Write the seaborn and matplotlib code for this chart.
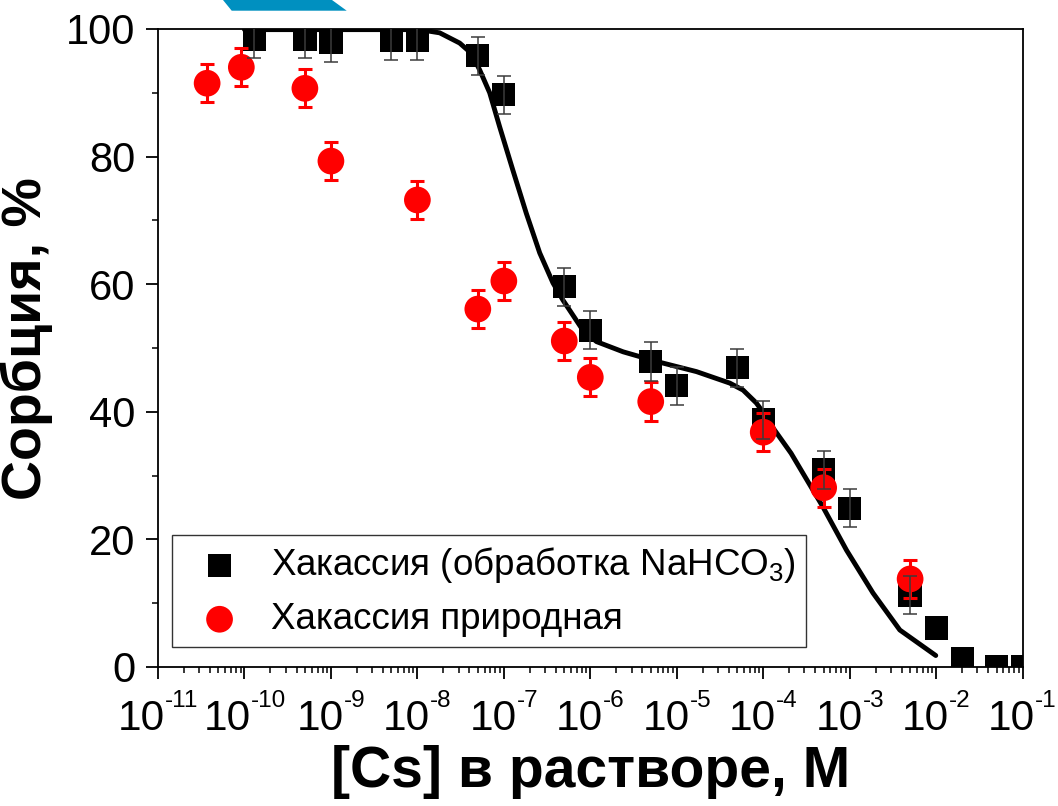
import numpy as np
import pandas as pd
import matplotlib
matplotlib.use("Agg")
import matplotlib.pyplot as plt
import seaborn as sns
from matplotlib.patches import Polygon
from matplotlib.ticker import LogLocator, MultipleLocator, NullFormatter

# ---- data ----
treated_x = [1.3e-10, 5e-10, 1e-9, 5e-9, 1e-8, 5e-8, 1e-7, 5e-7, 1e-6, 5e-6,
             1e-5, 5e-5, 1e-4, 5e-4, 1e-3, 5e-3, 1e-2, 2e-2, 5e-2, 1e-1]
treated_y = [98.4, 98.4, 97.9, 98.2, 98.2, 95.8, 89.7, 59.6, 52.8, 47.9,
             44.1, 46.9, 38.7, 30.9, 24.9, 11.3, 6.1, 1.3, 0.0, 0.0]
treated_err = [3, 3, 3, 3, 3, 3, 3, 3, 3, 3,
               3, 3, 3, 3, 3, 3, 0, 0, 0, 0]

natural_x = [3.7e-11, 9.2e-11, 5e-10, 1e-9, 1e-8, 5e-8, 1e-7, 5e-7, 1e-6, 5e-6,
             1e-4, 5e-4, 5e-3]
natural_y = [91.5, 94.0, 90.7, 79.3, 73.2, 56.1, 60.5, 51.1, 45.4, 41.6,
             36.8, 28.1, 13.8]
natural_err = [3, 3, 3, 3, 3, 3, 3, 3, 3, 3, 3, 3, 3]

fit_x = [1e-10, 1e-9, 1.06e-8, 1.81e-8, 3.08e-8, 4.2e-8, 5.25e-8, 6.86e-8, 8.93e-8,
         1.27e-7, 1.82e-7, 2.6e-7, 3.7e-7, 4.83e-7, 8.2e-7, 1.18e-6, 2.4e-6, 5.8e-6,
         1.69e-5, 4.1e-5, 5.85e-5, 8.3e-5, 1.0e-4, 1.19e-4, 2.1e-4, 4.9e-4, 9.2e-4,
         1.86e-3, 3.8e-3, 9.9e-3]
fit_y = [99.9, 99.9, 99.9, 99.4, 97.8, 96.2, 93.6, 90.0, 84.7,
         77.9, 71.1, 64.9, 60.2, 57.5, 52.8, 51.0, 49.4, 47.9,
         46.3, 44.5, 43.4, 41.4, 39.9, 38.2, 33.5, 25.1, 18.3,
         11.6, 5.8, 1.8]

x_exponents = [-11, -10, -9, -8, -7, -6, -5, -4, -3, -2, -1]

label_treated = "Хакассия (обработка NaHCO$_\\mathregular{3}$)"
label_natural = "Хакассия природная"
xlabel = "[Cs] в растворе, М"
ylabel = "Сорбция, %"

sns.set_style("ticks")
plt.rcParams["font.family"] = ["Liberation Sans", "DejaVu Sans"]
plt.rcParams["mathtext.fontset"] = "custom"
plt.rcParams["mathtext.rm"] = "Liberation Sans"
plt.rcParams["text.color"] = "black"
plt.rcParams["axes.labelcolor"] = "black"
plt.rcParams["xtick.color"] = "black"
plt.rcParams["ytick.color"] = "black"

df_t = pd.DataFrame({"x": treated_x, "y": treated_y, "err": treated_err})
df_n = pd.DataFrame({"x": natural_x, "y": natural_y, "err": natural_err})
df_f = pd.DataFrame({"x": fit_x, "y": fit_y})

fig = plt.figure(figsize=(10.58, 8.06), dpi=100)
ax = fig.add_axes([158 / 1058, 1 - 667 / 806, (1022.6 - 158) / 1058, (667 - 29) / 806])

# fit curve
sns.lineplot(data=df_f, x="x", y="y", ax=ax, color="black", lw=3.5, zorder=1.5,
             solid_capstyle="round", solid_joinstyle="round", sort=False)

# treated (squares)
sns.scatterplot(data=df_t, x="x", y="y", ax=ax, marker="s", s=280, color="black",
                edgecolor="none", zorder=2, label=label_treated)
te = df_t[df_t["err"] > 0]
ax.errorbar(te["x"], te["y"], yerr=te["err"], fmt="none", ecolor="#3c3c3c",
            elinewidth=1.1, capsize=5, capthick=1.1, zorder=4)

# natural (circles)
ne = df_n[df_n["err"] > 0]
ax.errorbar(ne["x"], ne["y"], yerr=ne["err"], fmt="none", ecolor="red",
            elinewidth=2.2, capsize=5, capthick=2.2, zorder=2.9)
sns.scatterplot(data=df_n, x="x", y="y", ax=ax, marker="o", s=370, color="red",
                edgecolor="none", zorder=3, label=label_natural)

ax.set_xscale("log")
ax.set_xlim(1e-11, 1e-1)
ax.set_ylim(0, 100)
ax.xaxis.set_major_locator(LogLocator(base=10, numticks=20))
ax.xaxis.set_minor_locator(LogLocator(base=10, subs=np.arange(2, 10), numticks=20))
ax.xaxis.set_minor_formatter(NullFormatter())
ax.xaxis.set_major_formatter(NullFormatter())
ax.yaxis.set_major_locator(MultipleLocator(20))
ax.yaxis.set_minor_locator(MultipleLocator(10))

for sp in ax.spines.values():
    sp.set_linewidth(1.3)
    sp.set_color("black")
ax.tick_params(which="major", direction="out", length=8.6, width=1.3, labelsize=30,
               top=False, right=False)
ax.tick_params(which="minor", direction="out", length=4.0, width=1.1,
               top=False, right=False)
ax.tick_params(axis="y", which="major", pad=7.5)

# x tick labels: "10" with a small raised exponent (as in the reference)
base_off = 63      # pixels from axis to baseline of "10"
sup_raise = 23     # pixels the exponent baseline is raised
pairs = []
for e in x_exponents:
    tm = ax.annotate("10", xy=(10.0 ** e, 0), xycoords=ax.get_xaxis_transform(),
                     xytext=(0, -base_off), textcoords="offset pixels",
                     ha="left", va="baseline", fontsize=30.5, annotation_clip=False)
    ts = ax.annotate("-%d" % abs(e), xy=(10.0 ** e, 0), xycoords=ax.get_xaxis_transform(),
                     xytext=(0, -base_off + sup_raise), textcoords="offset pixels",
                     ha="left", va="baseline", fontsize=17.5, annotation_clip=False)
    pairs.append((tm, ts))
fig.canvas.draw()
r = fig.canvas.get_renderer()
for tm, ts in pairs:
    wm = tm.get_window_extent(r).width
    ws = ts.get_window_extent(r).width
    left = -(wm + ws) / 2.0
    tm.xyann = (left, -base_off)
    ts.xyann = (left + wm, -base_off + sup_raise)

ax.set_xlabel(xlabel, fontsize=41, fontweight="bold")
ax.xaxis.set_label_coords(0.5, -0.122)
ax.set_ylabel(ylabel, fontsize=40, fontweight="bold")
ax.yaxis.set_label_coords(-0.122, 0.515)

leg = ax.legend(loc="lower left", bbox_to_anchor=(0.0167, 0.031), frameon=True,
                fancybox=False, edgecolor="black", fontsize=26.5, borderpad=0.28,
                handletextpad=0.4, labelspacing=0.45, borderaxespad=0,
                handlelength=2.0, markerscale=1.0)
leg.get_frame().set_linewidth(1.0)

# decorative blue fragment at the top of the picture
fig.patches.append(Polygon([(223 / 1058, 1.0), (332 / 1058, 1.0),
                            (346.7 / 1058, 1 - 10.7 / 806), (231.7 / 1058, 1 - 10.7 / 806)],
                           closed=True, transform=fig.transFigure, facecolor="#0090c0",
                           edgecolor="none", zorder=10))

fig.savefig("out.png", dpi=100)
